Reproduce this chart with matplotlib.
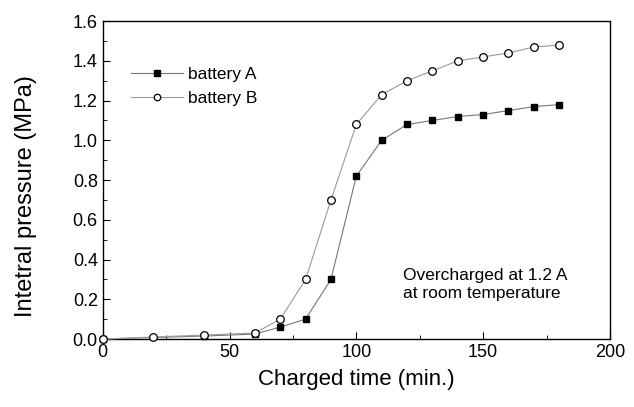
import matplotlib.pyplot as plt
from matplotlib.ticker import MultipleLocator

plt.rcParams['font.family'] = ['Liberation Sans', 'DejaVu Sans']

# data
time_a = [0, 40, 60, 70, 80, 90, 100, 110, 120, 130, 140, 150, 160, 170, 180]
pressure_a = [0.0, 0.015, 0.025, 0.06, 0.10, 0.30, 0.82, 1.00, 1.08, 1.10, 1.12, 1.13, 1.15, 1.17, 1.18]
time_b = [0, 20, 40, 60, 70, 80, 90, 100, 110, 120, 130, 140, 150, 160, 170, 180]
pressure_b = [0.0, 0.01, 0.02, 0.03, 0.10, 0.30, 0.70, 1.08, 1.23, 1.30, 1.35, 1.40, 1.42, 1.44, 1.47, 1.48]

fig = plt.figure(figsize=(6.34, 4.07), dpi=100)
ax = fig.add_axes([0.162, 0.167, 0.800, 0.781])

ax.plot(time_a, pressure_a, color='#777777', lw=0.8, marker='s', ms=4.8,
        mfc='black', mec='black', label='battery A', clip_on=False, zorder=3)
ax.plot(time_b, pressure_b, color='#999999', lw=0.8, marker='o', ms=5.5,
        mfc='white', mec='black', mew=0.9, label='battery B', clip_on=False, zorder=3)

ax.set_xlim(0, 200)
ax.set_ylim(0, 1.6)
ax.xaxis.set_major_locator(MultipleLocator(50))
ax.xaxis.set_minor_locator(MultipleLocator(25))
ax.yaxis.set_major_locator(MultipleLocator(0.2))
ax.yaxis.set_minor_locator(MultipleLocator(0.1))
ax.yaxis.set_major_formatter(plt.FormatStrFormatter('%.1f'))
ax.tick_params(which='both', direction='in', labelsize=13)
ax.tick_params(which='major', length=5)
ax.tick_params(which='minor', length=3)
for s in ax.spines.values():
    s.set_linewidth(1.0)

ax.set_xlabel('Charged time (min.)', fontsize=16, labelpad=6)
ax.set_ylabel('Intetral pressure (MPa)', fontsize=17)
ax.yaxis.set_label_coords(-0.13, 0.45)

ax.legend(loc='upper left', bbox_to_anchor=(0.025, 0.905), frameon=False,
          fontsize=12.5, handlelength=3, handletextpad=0.3, labelspacing=0.5,
          markerscale=0.85)

ax.text(118.5, 0.19, 'Overcharged at 1.2 A\nat room temperature', fontsize=12.5,
        linespacing=1.3, va='bottom', ha='left')

fig.savefig('out.png', dpi=100)
